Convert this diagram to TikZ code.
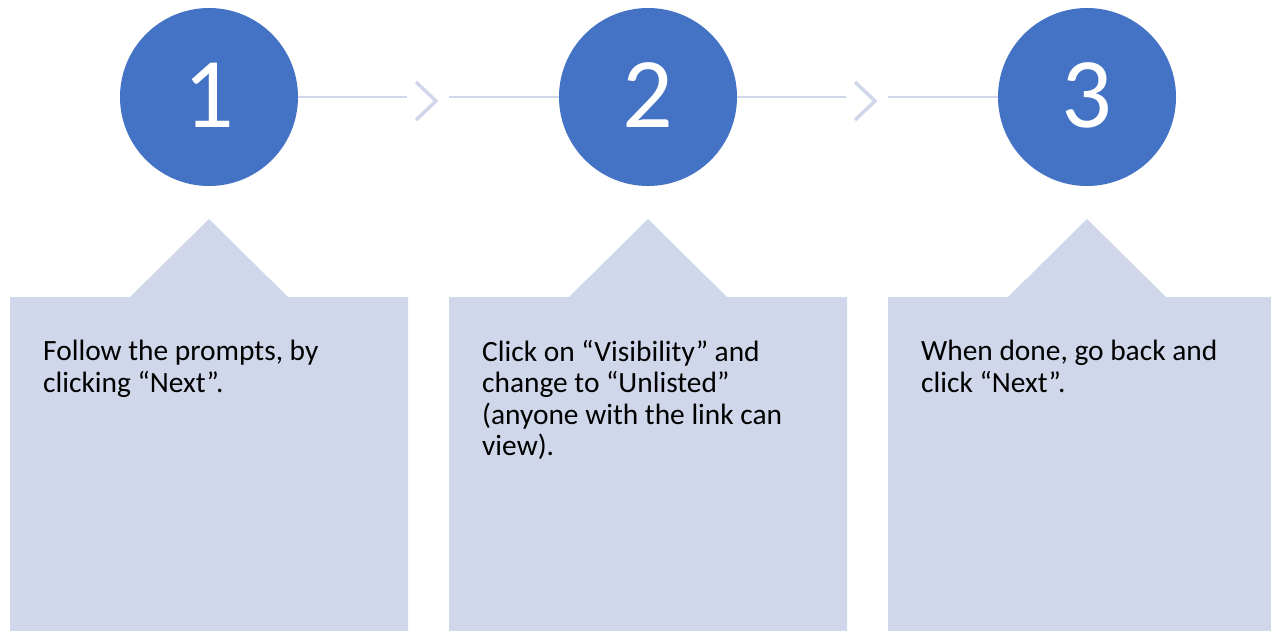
\documentclass[tikz,border=0pt]{standalone}
\usepackage{fontspec}
\setmainfont{Carlito}
\usetikzlibrary{positioning}
\definecolor{stepblue}{RGB}{68,114,196}
\definecolor{paleblue}{RGB}{208,215,234}

\begin{document}
\begin{tikzpicture}[x=1pt, y=-1pt,
    stepcircle/.style={circle, fill=stepblue, minimum size=178pt, inner sep=0pt,
        text=white, font=\fontsize{100}{100}\selectfont},
    link/.style={paleblue, line width=2.5pt},
    chevron/.style={paleblue, line width=3.5pt, line join=miter},
    panel/.style={fill=paleblue},
    note/.style={anchor=north west, align=left, inner sep=0pt,
        font=\fontsize{29.4}{31.5}\selectfont},
]
    \useasboundingbox (0,0) rectangle (1271,630);
    \clip (0,0) rectangle (1271,630);

    % Panels with pointer
    \foreach \cx in {209,648,1087}{
        \fill[panel] (\cx-199,297) -- (\cx-79,297) -- (\cx,219) -- (\cx+79,297)
            -- (\cx+199,297) -- (\cx+199,640) -- (\cx-199,640) -- cycle;
    }

    % Steps
    \node[stepcircle] (c1) at (209,97) {\raisebox{3pt}{1}};
    \node[stepcircle] (c2) at (648,97) {\raisebox{3pt}{2}};
    \node[stepcircle] (c3) at (1087,97) {\raisebox{3pt}{3}};

    % Connectors
    \coordinate (l1) at (407,97);
    \coordinate (r1) at (449,97);
    \coordinate (l2) at (846,97);
    \coordinate (r2) at (888,97);
    \draw[link] (c1.east) -- (l1);
    \draw[link] (r1) -- (c2.west);
    \draw[link] (c2.east) -- (l2);
    \draw[link] (r2) -- (c3.west);
    \draw[chevron] (416,82) -- (436,101) -- (416,120);
    \draw[chevron] (855,82) -- (875,101) -- (855,120);

    % Texts
    \node[note] (t1) at (43,340) {Follow the prompts, by\\clicking “Next”.};
    \node[note] (t2) at (482,340) {Click on “Visibility” and\\change to “Unlisted”\\(anyone with the link can\\view).};
    \node[note] (t3) at (921,340) {When done, go back and\\click “Next”.};
\end{tikzpicture}
\end{document}
